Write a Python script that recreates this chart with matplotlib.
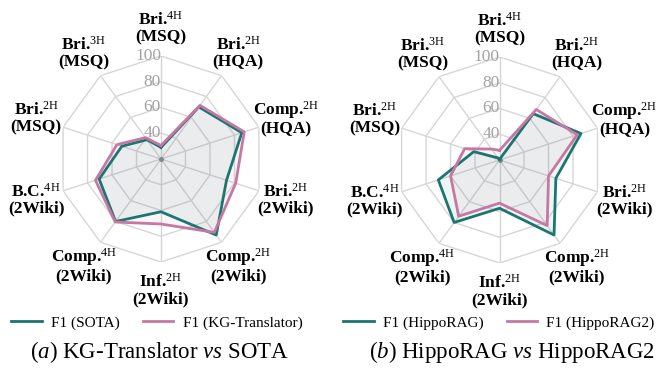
import numpy as np
import matplotlib
matplotlib.use("Agg")
import matplotlib.pyplot as plt

plt.rcParams["font.family"] = ["Liberation Serif", "DejaVu Serif"]
plt.rcParams["mathtext.fontset"] = "custom"
plt.rcParams["mathtext.rm"] = "Liberation Serif"
plt.rcParams["mathtext.bf"] = "Liberation Serif:bold"
plt.rcParams["mathtext.it"] = "Liberation Serif:italic"

# axis names: (task, hop, dataset)
tasks = ["Bri.", "Bri.", "Comp.", "Bri.", "Comp.", "Inf.", "Comp.", "B.C.", "Bri.", "Bri."]
hops = ["4H", "2H", "2H", "2H", "2H", "2H", "4H", "4H", "2H", "3H"]
datasets = ["MSQ", "HQA", "HQA", "2Wiki", "2Wiki", "2Wiki", "2Wiki", "2Wiki", "MSQ", "MSQ"]

# F1 scores
f1_sota = [29, 70, 86, 73.5, 93, 61, 80, 70.5, 52, 38.5]
f1_kgt = [30.5, 71.5, 88, 81, 90.5, 70.5, 80.5, 73.5, 56, 40.5]
f1_hippo = [20.5, 64.5, 86.5, 66, 92, 57.5, 80, 70, 41, 22]
f1_hippo2 = [27.5, 68.5, 83.5, 60, 83, 53.5, 74, 60, 48.5, 30.5]

rticks = [40, 60, 80, 100]
rmin, rmax = 20, 100

teal = "#1b7670"
pink = "#c678a2"
grid_c = "#d6d6d6"

fig = plt.figure(figsize=(6.62, 3.74), dpi=100)

theta = np.linspace(0, 2 * np.pi, len(tasks), endpoint=False)
theta_c = np.append(theta, theta[0])


def radar(ax, a, b, name_a, name_b):
    ax.set_theta_zero_location("N")
    ax.set_theta_direction(-1)
    ax.set_ylim(rmin, rmax)
    ax.grid(False)
    ax.spines["polar"].set_visible(False)
    ax.set_xticks([])
    ax.set_yticks([])
    for r in rticks:
        ax.plot(theta_c, [r] * len(theta_c), color=grid_c, lw=1.0, zorder=1)
        ax.text(0, r, str(r), ha="right", va="center", fontsize=12.5,
                color="#a3a3a3", zorder=2)
    for t in theta:
        ax.plot([t, t], [rmin, rmax], color=grid_c, lw=1.0, zorder=1)
    ax.plot([0], [rmin], "o", color="#888888", ms=2.5, zorder=2)

    va = np.append(a, a[0])
    vb = np.append(b, b[0])
    ax.fill(theta_c, va, color=teal, alpha=0.07, lw=0, zorder=3)
    ax.fill(theta_c, vb, color=pink, alpha=0.07, lw=0, zorder=3)
    h1, = ax.plot(theta_c, va, color=teal, lw=2.0, label=name_a, zorder=4)
    h2, = ax.plot(theta_c, vb, color=pink, lw=2.0, label=name_b, zorder=4)

    for t, task, hop, ds in zip(theta, tasks, hops, datasets):
        lab = task + r"$^{\mathrm{%s}}$" % hop + "\n(" + ds + ")"
        ax.text(t, 122, lab, ha="center", va="center", fontsize=12.5,
                fontweight="bold", linespacing=1.05, clip_on=False)
    return [h1, h2]


ax1 = fig.add_axes([0.0876, 0.2995, 0.3112, 0.5508], projection="polar")
hs1 = radar(ax1, f1_sota, f1_kgt, "F1 (SOTA)", "F1 (KG-Translator)")
ax2 = fig.add_axes([0.599, 0.2968, 0.3112, 0.5508], projection="polar")
hs2 = radar(ax2, f1_hippo, f1_hippo2, "F1 (HippoRAG)", "F1 (HippoRAG2)")

for hs, x in [(hs1, 0.237), (hs2, 0.7538)]:
    fig.legend(handles=hs, loc="center", bbox_to_anchor=(x, 0.1364), ncol=2,
               frameon=False, fontsize=11, handlelength=2.0, handletextpad=0.6,
               columnspacing=1.5)

fig.text(160 / 662, 1 - 352 / 374, r"$\mathit{(a)}$ KG-Translator $\mathit{vs}$ SOTA",
         ha="center", va="center", fontsize=16.5)
fig.text(512 / 662, 1 - 352 / 374, r"$\mathit{(b)}$ HippoRAG $\mathit{vs}$ HippoRAG2",
         ha="center", va="center", fontsize=16.5)

fig.savefig("out.png", dpi=100)
